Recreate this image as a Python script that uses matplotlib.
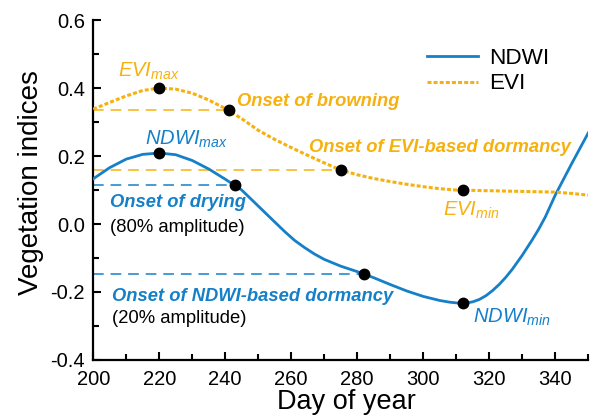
import matplotlib
matplotlib.use("Agg")
import matplotlib.pyplot as plt
from matplotlib.ticker import MultipleLocator, FormatStrFormatter

plt.rcParams["font.family"] = ["Liberation Sans", "DejaVu Sans"]
plt.rcParams["mathtext.fontset"] = "custom"
plt.rcParams["mathtext.it"] = "Liberation Sans:italic"
plt.rcParams["mathtext.rm"] = "Liberation Sans"

BLUE = "#1580c8"
ORANGE = "#f6b10f"

# curves (denser where they bend)
ndwi_day = [200, 205, 210, 215, 220, 225, 230, 235, 240, 245, 250, 255, 258,
            261, 264, 267, 270, 275, 280, 285, 290, 295, 300, 305, 308, 311,
            313, 315, 317, 319, 321, 323, 325, 327, 330, 333, 335, 337, 340,
            345, 350]
ndwi = [0.133, 0.166, 0.191, 0.205, 0.209, 0.204, 0.187, 0.162, 0.132, 0.100,
        0.053, 0.006, -0.022, -0.048, -0.069, -0.088, -0.104, -0.124, -0.140,
        -0.158, -0.178, -0.197, -0.213, -0.225, -0.230, -0.233, -0.2325,
        -0.229, -0.222, -0.211, -0.196, -0.178, -0.157, -0.133, -0.092,
        -0.047, -0.015, 0.021, 0.085, 0.178, 0.268]
evi_day = [200, 205, 210, 215, 220, 225, 230, 235, 240, 245, 250, 255, 260,
           265, 270, 275, 280, 285, 290, 295, 300, 305, 310, 315, 320, 325,
           330, 335, 340, 345, 350]
evi = [0.338, 0.358, 0.377, 0.393, 0.400, 0.397, 0.385, 0.365, 0.340, 0.310,
       0.276, 0.249, 0.225, 0.202, 0.180, 0.159, 0.145, 0.134, 0.125, 0.117,
       0.110, 0.104, 0.100, 0.099, 0.098, 0.097, 0.096, 0.095, 0.094, 0.090,
       0.085]

# key dates (day, value)
ndwi_pts_x = [220, 243, 282, 312]
ndwi_pts_y = [0.209, 0.114, -0.146, -0.233]
evi_pts_x = [220, 241, 275, 312]
evi_pts_y = [0.400, 0.335, 0.159, 0.100]

fig = plt.figure(figsize=(5.9, 4.2), dpi=100)
ax = fig.add_axes([0.158, 0.143, 0.839, 0.809])

ax.plot(ndwi_day, ndwi, color=BLUE, lw=2.0, label="NDWI", zorder=3)
ax.plot(evi_day, evi, color=ORANGE, lw=2.2, ls=(0, (1.3, 0.7)), label="EVI", zorder=3)

# dashed reference levels from the y axis to each onset point
for x, y in zip(evi_pts_x[1:3], evi_pts_y[1:3]):
    ax.plot([200, x], [y, y], color=ORANGE, lw=1.1, ls=(0, (7, 4.5)), zorder=2)
for x, y in zip(ndwi_pts_x[1:3], ndwi_pts_y[1:3]):
    ax.plot([200, x], [y, y], color=BLUE, lw=1.1, ls=(0, (7, 4.5)), zorder=2)

ax.plot(ndwi_pts_x, ndwi_pts_y, "o", color="black", ms=7.5, zorder=4)
ax.plot(evi_pts_x, evi_pts_y, "o", color="black", ms=7.5, zorder=4)

bi = dict(fontsize=13.2, fontweight="bold", fontstyle="italic", va="center")
sub = dict(fontsize=14.5, va="center")
ax.text(207.5, 0.449, r"$\mathit{EVI}_{\mathit{max}}$", color=ORANGE, **sub)
ax.text(243.6, 0.362, "Onset of browning", color=ORANGE, **bi)
ax.text(265.5, 0.226, "Onset of EVI-based dormancy", color=ORANGE, **bi)
ax.text(306, 0.040, r"$\mathit{EVI}_{\mathit{min}}$", color=ORANGE, **sub)

ax.text(215.8, 0.249, r"$\mathit{NDWI}_{\mathit{max}}$", color=BLUE, **sub)
ax.text(205.2, 0.062, "Onset of drying", color=BLUE, **bi)
ax.text(205.2, -0.009, "(80% amplitude)", color="black", fontsize=13.3, va="center")
ax.text(205.8, -0.212, "Onset of NDWI-based dormancy", color=BLUE, **bi)
ax.text(205.8, -0.277, "(20% amplitude)", color="black", fontsize=13.3, va="center")
ax.text(315.2, -0.274, r"$\mathit{NDWI}_{\mathit{min}}$", color=BLUE, **sub)

ax.set_xlim(200, 350)
ax.set_ylim(-0.4, 0.6)
ax.xaxis.set_major_locator(MultipleLocator(20))
ax.xaxis.set_minor_locator(MultipleLocator(10))
ax.yaxis.set_major_locator(MultipleLocator(0.2))
ax.yaxis.set_minor_locator(MultipleLocator(0.1))
ax.yaxis.set_major_formatter(FormatStrFormatter("%.1f"))
ax.tick_params(which="both", direction="in", width=1.5, labelsize=14.5)
ax.tick_params(which="major", length=6)
ax.tick_params(which="minor", length=4)
ax.tick_params(axis="x", pad=7)
ax.tick_params(axis="y", pad=6)
for s in ["top", "right"]:
    ax.spines[s].set_visible(False)
for s in ["left", "bottom"]:
    ax.spines[s].set_linewidth(1.6)

ax.set_xlabel("Day of year", fontsize=19.5)
ax.set_ylabel("Vegetation indices", fontsize=20)
ax.xaxis.set_label_coords(0.512, -0.085)
ax.yaxis.set_label_coords(-0.100, 0.522)

ax.legend(loc="upper right", bbox_to_anchor=(0.962, 0.978), frameon=False,
          fontsize=16.2, handlelength=2.25, handletextpad=0.5, labelspacing=0.2)

fig.savefig("out.png", dpi=100)
